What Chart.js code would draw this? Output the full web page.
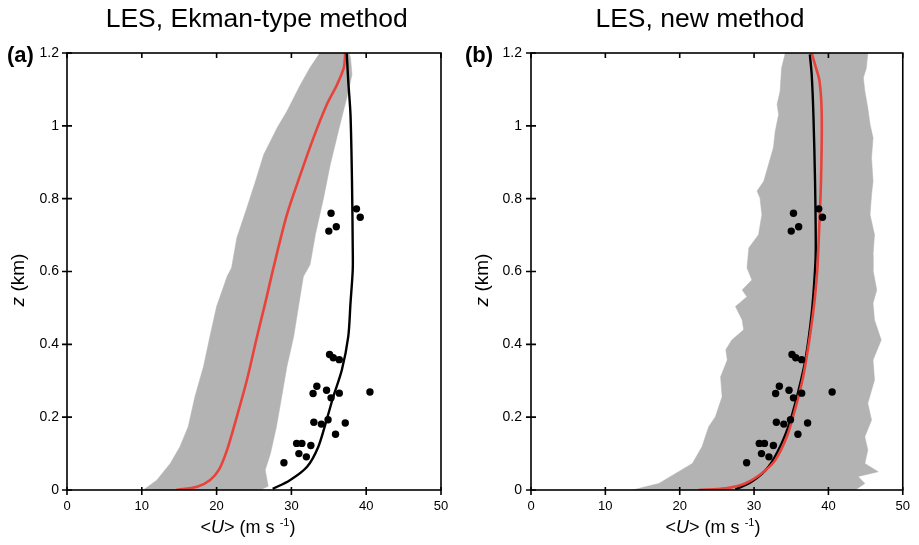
<!DOCTYPE html>
<html>
<head>
<meta charset="utf-8">
<script src="https://cdn.jsdelivr.net/npm/chart.js@4/dist/chart.umd.min.js"></script>
<style>
  html, body { margin: 0; padding: 0; background: #fff; }
  #wrap { position: relative; width: 919px; height: 545px; background: #fff; overflow: hidden;
          font-family: 'Liberation Sans', Arial, sans-serif; color: #000; }
  canvas { position: absolute; top: 0; }
  .t { position: absolute; white-space: nowrap; }
  .title { font-size: 26.5px; line-height: 26.5px; top: 4.9px; transform: translateX(-50%); }
  .plab { font-size: 22px; line-height: 22px; font-weight: bold; top: 44.4px; }
  .xt { font-size: 18px; line-height: 18px; top: 518.4px; transform: translateX(-50%); }
  .xt sup { font-size: 11px; vertical-align: 7px; line-height: 0; }
  .yt { font-size: 19px; line-height: 19px; transform: translate(-50%, -50%) rotate(-90deg); }
</style>
</head>
<body>
<div id="wrap">
  <canvas id="ca" width="460" height="545" style="left:0px;width:460px;height:545px"></canvas>
  <canvas id="cb" width="459" height="545" style="left:460px;width:459px;height:545px"></canvas>
  <div class="t title" style="left:256.7px">LES, Ekman-type method</div>
  <div class="t title" style="left:700px">LES, new method</div>
  <div class="t plab" style="left:7px">(a)</div>
  <div class="t plab" style="left:465px">(b)</div>
  <div class="t xt" style="left:248px">&lt;<i>U</i>&gt; (m s <sup>-1</sup>)</div>
  <div class="t xt" style="left:713px">&lt;<i>U</i>&gt; (m s <sup>-1</sup>)</div>
  <div class="t yt" style="left:16.7px;top:280px"><i>z</i> (km)</div>
  <div class="t yt" style="left:481px;top:280px"><i>z</i> (km)</div>
</div>
<script>
// ---------- axis ticks ----------
const uTicks = [0, 10, 20, 30, 40, 50];
const uTickLabels = ['0', '10', '20', '30', '40', '50'];
const zTicks = [0, 0.2, 0.4, 0.6, 0.8, 1, 1.2];
const zTickLabels = ['0', '0.2', '0.4', '0.6', '0.8', '1', '1.2'];

// ---------- observations (same in both panels) ----------
const obsU = [35.3, 38.7, 39.2, 36.0, 35.0, 35.1, 35.6, 36.4, 33.4, 32.9, 34.7, 36.4, 40.5,
              35.3, 33.0, 34.0, 34.9, 37.2, 35.9, 30.7, 31.4, 32.6, 31.0, 32.0, 29.0];
const obsZ = [0.760, 0.772, 0.749, 0.723, 0.711, 0.372, 0.363, 0.358, 0.285, 0.265, 0.274, 0.266, 0.269,
              0.253, 0.186, 0.181, 0.193, 0.184, 0.153, 0.128, 0.128, 0.122, 0.100, 0.091, 0.075];

// ---------- panel (a): Ekman-type method ----------
const aBandLeftZ = [0, 0.027, 0.073, 0.119, 0.174, 0.256, 0.339, 0.421, 0.504, 0.586, 0.610, 0.692,
                    0.775, 0.848, 0.921, 0.995, 1.04, 1.113, 1.16, 1.2];
const aBandLeftU = [10.2, 12.0, 13.8, 15.1, 16.2, 17.1, 18.25, 19.1, 20.0, 21.4, 22.0, 22.7,
                    24.05, 25.2, 26.3, 28.1, 29.4, 31.2, 32.5, 33.8];
const aBandRightZ = [0, 0.01, 0.055, 0.1, 0.174, 0.256, 0.339, 0.421, 0.504, 0.586, 0.619, 0.701,
                     0.802, 0.894, 1.004, 1.077, 1.141, 1.187, 1.2];
const aBandRightU = [25.8, 26.9, 26.5, 27.2, 28.0, 28.7, 29.4, 30.3, 30.95, 31.6, 32.5, 33.2,
                     34.3, 35.2, 36.5, 37.4, 38.1, 37.9, 37.7];
const aRedZ = [0, 0.009, 0.027, 0.055, 0.11, 0.201, 0.302, 0.421, 0.513, 0.61, 0.756, 0.866,
               0.967, 1.059, 1.113, 1.159, 1.2];
const aRedU = [14.6, 17.4, 19.1, 20.3, 21.4, 22.7, 24.05, 25.4, 26.5, 27.6, 29.4, 31.2,
               32.95, 34.75, 36.1, 37.0, 37.2];
const aBlackZ = [0.003, 0.027, 0.064, 0.119, 0.192, 0.256, 0.33, 0.421, 0.513, 0.604, 0.665,
                 0.848, 1.031, 1.123, 1.2];
const aBlackU = [27.5, 29.8, 32.1, 33.6, 34.7, 35.6, 36.75, 37.6, 37.9, 38.2, 38.2,
                 38.1, 37.9, 37.6, 37.4];

// ---------- panel (b): new method ----------
const bBandLeftZ = [0, 0.018, 0.046, 0.073, 0.119, 0.174, 0.201, 0.256, 0.311, 0.357, 0.385, 0.412,
                    0.44, 0.467, 0.504, 0.531, 0.549, 0.577, 0.61, 0.665, 0.701, 0.756, 0.802, 0.821,
                    0.848, 0.894, 0.94, 0.985, 1.031, 1.059, 1.095, 1.159, 1.2];
const bBandLeftU = [13.65, 17.2, 19.5, 21.7, 23.0, 23.9, 24.8, 25.7, 25.5, 26.4, 26.2, 27.0,
                    28.6, 28.4, 27.5, 29.05, 28.4, 29.7, 29.05, 29.3, 30.6, 31.05, 30.8, 30.4,
                    31.3, 31.95, 32.6, 32.85, 33.3, 33.1, 33.5, 33.7, 34.2];
const bBandRightZ = [0, 0.018, 0.037, 0.05, 0.073, 0.11, 0.146, 0.192, 0.238, 0.302, 0.357, 0.412,
                     0.467, 0.513, 0.549, 0.604, 0.646, 0.701, 0.756, 0.811, 0.848, 0.912, 0.967,
                     1.004, 1.049, 1.095, 1.132, 1.159, 1.2];
const bBandRightU = [43.6, 44.9, 44.0, 46.7, 44.9, 45.3, 44.9, 45.8, 45.3, 46.2, 46.0, 47.1,
                     46.2, 46.0, 46.5, 46.0, 46.0, 46.2, 45.6, 45.8, 46.0, 45.8, 46.0,
                     45.6, 45.3, 44.9, 44.7, 45.1, 45.3];
const bRedZ = [0, 0.005, 0.018, 0.046, 0.082, 0.146, 0.22, 0.311, 0.421, 0.513, 0.604, 0.665,
               0.848, 1.031, 1.123, 1.168, 1.2];
const bRedU = [22.5, 26.2, 28.8, 31.05, 32.85, 34.4, 35.5, 36.6, 37.5, 38.1, 38.5, 38.65,
               39.0, 39.1, 38.8, 38.2, 37.75];
const bBlackZ = [0.002, 0.023, 0.064, 0.128, 0.192, 0.275, 0.357, 0.485, 0.604, 0.665, 0.848,
                 1.031, 1.141, 1.196];
const bBlackU = [27.5, 29.7, 31.95, 33.7, 34.9, 36.0, 36.9, 37.75, 38.2, 38.3, 38.2,
                 37.98, 37.75, 37.5];

// ---------- helpers ----------
const pts = (U, Z) => U.map((u, i) => ({ x: u, y: Z[i] }));
const bandPoly = (lu, lz, ru, rz) => pts(lu, lz).concat(pts(ru, rz).reverse());

const RED = '#e8433b';
const GRAY = '#b3b3b3';
const FONT = "'Liberation Sans', Arial, sans-serif";

const framePlugin = {
  id: 'frame',
  afterDatasetsDraw(chart) {
    const { ctx, chartArea: a, scales } = chart;
    ctx.save();
    ctx.strokeStyle = '#000';
    ctx.lineWidth = 1.6;
    ctx.strokeRect(a.left, a.top, a.right - a.left, a.bottom - a.top);
    ctx.beginPath();
    zTicks.forEach(v => {
      const y = scales.y.getPixelForValue(v);
      ctx.moveTo(a.left - 5, y); ctx.lineTo(a.left + 5, y);
    });
    uTicks.forEach(v => {
      const x = scales.x.getPixelForValue(v);
      ctx.moveTo(x, a.bottom - 3); ctx.lineTo(x, a.bottom + 5);
      ctx.moveTo(x, a.top); ctx.lineTo(x, a.top + 5);
    });
    ctx.stroke();
    ctx.restore();
  }
};

function makeChart(id, band, redU, redZ, blackU, blackZ, yWidth, padRight, yPad, redOnTop) {
  return new Chart(document.getElementById(id), {
    type: 'scatter',
    data: {
      datasets: [
        { label: 'obs', data: pts(obsU, obsZ), showLine: false, pointRadius: 3.7,
          pointBackgroundColor: '#000', pointBorderWidth: 0, order: 0 },
        { label: 'red', data: pts(redU, redZ), showLine: true, pointRadius: 0,
          borderColor: RED, borderWidth: 2.6, tension: 0.3, order: redOnTop ? 1 : 2 },
        { label: 'black', data: pts(blackU, blackZ), showLine: true, pointRadius: 0,
          borderColor: '#000', borderWidth: 2.4, tension: 0.3, order: redOnTop ? 2 : 1 },
        { label: 'band', data: band, showLine: true, pointRadius: 0, fill: 'shape',
          backgroundColor: GRAY, borderColor: GRAY, borderWidth: 0.5, tension: 0, order: 3 }
      ]
    },
    options: {
      responsive: false,
      animation: false,
      devicePixelRatio: 1,
      layout: { padding: { top: 53, right: padRight, left: 0, bottom: 0 } },
      plugins: { legend: { display: false }, tooltip: { enabled: false } },
      scales: {
        x: {
          type: 'linear', min: 0, max: 50,
          afterBuildTicks: s => { s.ticks = uTicks.map(v => ({ value: v })); },
          afterFit: s => { s.height = 55; },
          ticks: { callback: (v, i) => uTickLabels[i], color: '#000', padding: 9,
                   font: { family: FONT, size: 13 }, maxRotation: 0 },
          grid: { display: false, drawTicks: false },
          border: { display: false }
        },
        y: {
          type: 'linear', min: 0, max: 1.2,
          afterBuildTicks: s => { s.ticks = zTicks.map(v => ({ value: v })); },
          afterFit: s => { s.width = yWidth; },
          ticks: { callback: (v, i) => zTickLabels[i], color: '#000', padding: yPad,
                   font: { family: FONT, size: 14 } },
          grid: { display: false, drawTicks: false },
          border: { display: false }
        }
      }
    },
    plugins: [framePlugin]
  });
}

makeChart('ca', bandPoly(aBandLeftU, aBandLeftZ, aBandRightU, aBandRightZ),
          aRedU, aRedZ, aBlackU, aBlackZ, 67, 19, 8, false);
makeChart('cb', bandPoly(bBandLeftU, bBandLeftZ, bBandRightU, bBandRightZ),
          bRedU, bRedZ, bBlackU, bBlackZ, 71, 14, 9, true);
</script>
</body>
</html>
